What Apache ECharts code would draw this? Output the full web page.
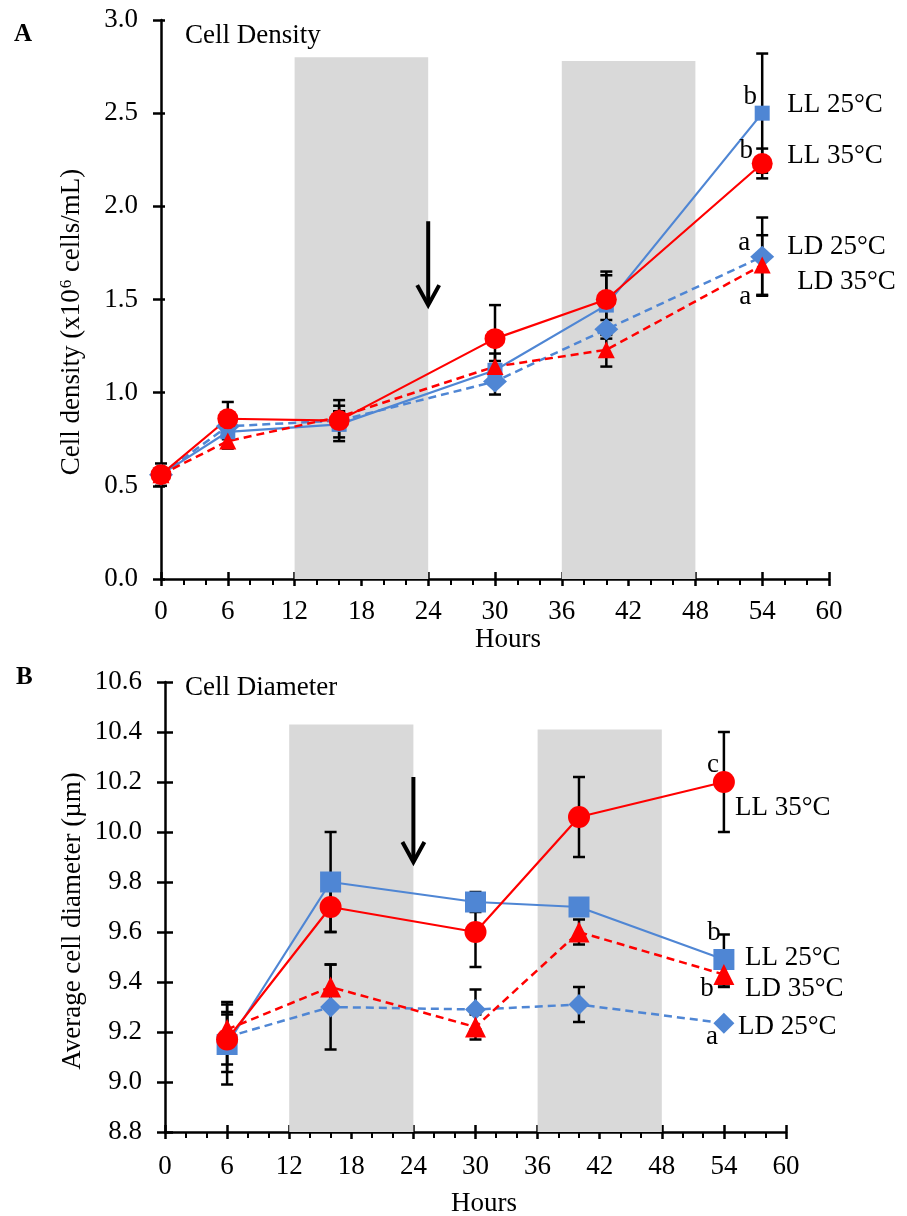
<!DOCTYPE html>
<html lang="en">
<head>
  <meta charset="UTF-8">
  <script src="https://cdn.jsdelivr.net/npm/echarts@6/dist/echarts.min.js"></script>
  <title>Cell density and diameter</title>
  <style>body{margin:0;background:#fff}</style>
</head>
<body>
  <div id="main" style="width: 907px;height:1216px;"></div>
  <script type="text/javascript">
    var myChart = echarts.init(document.getElementById('main'));

    // ---- data (panel A: cell density, x10^6 cells/mL) ----
    var hoursA = [0, 6, 16, 30, 40, 54];
    var ll25A = [0.56, 0.79, 0.83, 1.12, 1.47, 2.50];
    var ll25AErr = [0.03, 0.04, 0.07, 0.05, 0.16, 0.32];
    var ll35A = [0.56, 0.86, 0.85, 1.29, 1.50, 2.23];
    var ll35AErr = [0.06, 0.09, 0.11, 0.18, 0.15, 0.08];
    var ld25A = [0.56, 0.82, 0.85, 1.06, 1.34, 1.73];
    var ld25AErr = [0.03, 0.03, 0.05, 0.07, 0.05, 0.21];
    var ld35A = [0.56, 0.74, 0.87, 1.14, 1.23, 1.685];
    var ld35AErr = [0.03, 0.04, 0.06, 0.07, 0.09, 0.16];

    // ---- data (panel B: average cell diameter, um) ----
    var hoursB = [6, 16, 30, 40, 54];
    var ll25B = [9.15, 9.80, 9.72, 9.70, 9.49];
    var ll25BErr = [0.16, 0.20, 0.04, 0.03, 0.10];
    var ll35B = [9.17, 9.70, 9.60, 10.06, 10.20];
    var ll35BErr = [0.10, 0.10, 0.14, 0.16, 0.20];
    var ld25B = [9.18, 9.30, 9.29, 9.31, 9.235];
    var ld25BErr = [0.14, 0.17, 0.08, 0.07, 0.01];
    var ld35B = [9.21, 9.38, 9.22, 9.60, 9.43];
    var ld35BErr = [0.07, 0.09, 0.05, 0.05, 0.05];

    // dark periods (start, end, top of grey band)
    var darkA = [[12, 24, 2.8], [36, 48, 2.78]];
    var darkB = [[12, 24, 10.43], [36, 48, 10.41]];
    // arrows (x, top, tip)
    var arrowA = [[24, 1.92, 1.47]];
    var arrowB = [[24, 10.22, 9.88]];

    var seriesNames = ['LL 25°C', 'LL 35°C', 'LD 25°C', 'LD 35°C'];
    var lettersA = ['b', 'b', 'a', 'a'];
    var lettersB = ['b', 'c', 'a', 'b'];

    var FONT = "'Liberation Serif', 'Times New Roman', serif";
    var FS = 27;
    var BLUE = '#4F86D4';
    var RED = '#FF0000';

    function pairs(xs, ys) {
      return xs.map(function (x, i) { return [x, ys[i]]; });
    }
    function errData(xs, ys, es) {
      return xs.map(function (x, i) { return [x, ys[i] - es[i], ys[i] + es[i]]; });
    }

    function errorRender(params, api) {
      var x = api.value(0);
      var lo = api.coord([x, api.value(1)]);
      var hi = api.coord([x, api.value(2)]);
      var w = 6;
      var st = { stroke: '#000', lineWidth: 2.5 };
      return {
        type: 'group',
        children: [
          { type: 'line', shape: { x1: lo[0], y1: lo[1], x2: hi[0], y2: hi[1] }, style: st },
          { type: 'line', shape: { x1: lo[0] - w, y1: lo[1], x2: lo[0] + w, y2: lo[1] }, style: st },
          { type: 'line', shape: { x1: hi[0] - w, y1: hi[1], x2: hi[0] + w, y2: hi[1] }, style: st }
        ]
      };
    }

    function bandRender(base) {
      return function (params, api) {
        var p1 = api.coord([api.value(0), api.value(2)]);
        var p2 = api.coord([api.value(1), base]);
        return {
          type: 'rect',
          shape: { x: p1[0], y: p1[1], width: p2[0] - p1[0], height: p2[1] - p1[1] },
          style: { fill: '#D9D9D9' }
        };
      };
    }

    function arrowRender(params, api) {
      var top = api.coord([api.value(0), api.value(1)]);
      var tip = api.coord([api.value(0), api.value(2)]);
      var st = { stroke: '#000', lineWidth: 4, fill: null };
      return {
        type: 'group',
        children: [
          { type: 'line', shape: { x1: top[0], y1: top[1], x2: tip[0], y2: tip[1] - 2 }, style: st },
          { type: 'polyline', shape: { points: [[tip[0] - 11, tip[1] - 20], [tip[0], tip[1]], [tip[0] + 11, tip[1] - 20]] }, style: st }
        ]
      };
    }

    function xAxes(gi, labelMargin) {
      var common = {
        gridIndex: gi, type: 'value', min: 0, max: 60, interval: 6,
        position: 'bottom', offset: 0, splitLine: { show: false }
      };
      return [
        Object.assign({}, common, {
          axisLine: { lineStyle: { color: '#000', width: 2.5 } },
          axisTick: { inside: false, length: 7, lineStyle: { color: '#000', width: 2.5 } },
          minorTick: { show: true, splitNumber: 3, length: 6, lineStyle: { color: '#000', width: 2 } },
          axisLabel: { color: '#000', fontFamily: FONT, fontSize: FS, margin: labelMargin }
        }),
        Object.assign({}, common, {
          axisLine: { show: false },
          axisTick: { inside: true, length: 7, lineStyle: { color: '#000', width: 2.5 } },
          axisLabel: { show: false }
        })
      ];
    }

    function yAxes(gi, min, max, interval, inLen) {
      var common = {
        gridIndex: gi, type: 'value', min: min, max: max, interval: interval,
        position: 'left', offset: 0, splitLine: { show: false }
      };
      return [
        Object.assign({}, common, {
          axisLine: { show: true, lineStyle: { color: '#000', width: 2.5 } },
          axisTick: { show: true, inside: false, length: 8, lineStyle: { color: '#000', width: 2.5 } },
          axisLabel: {
            color: '#000', fontFamily: FONT, fontSize: FS, margin: 23,
            formatter: function (v) { return v.toFixed(1); }
          }
        }),
        Object.assign({}, common, {
          axisLine: { show: false },
          axisTick: { show: true, inside: true, length: inLen, lineStyle: { color: '#000', width: 2.5 } },
          axisLabel: { show: false }
        })
      ];
    }

    function lineSeries(xi, yi, name, data, color, dashed, symbol, size) {
      return {
        type: 'line', name: name, xAxisIndex: xi, yAxisIndex: yi, data: data,
        symbol: symbol, symbolSize: size, z: 4,
        lineStyle: { color: color, width: dashed ? 2.5 : 2.2, type: dashed ? [8, 5] : 'solid' },
        itemStyle: { color: color, opacity: 1 }
      };
    }

    // text labels at the last point, offsets in pixels
    function labelSeries(xi, yi, items) {
      return {
        type: 'scatter', xAxisIndex: xi, yAxisIndex: yi, symbolSize: 0, z: 6, silent: true,
        itemStyle: { opacity: 1 },
        data: items.map(function (it) {
          return {
            value: it.pos, name: it.text,
            label: {
              show: true, position: 'inside', formatter: '{b}', offset: it.off,
              align: it.align, verticalAlign: 'middle', opacity: 1,
              color: '#000', fontFamily: FONT, fontSize: FS
            }
          };
        })
      };
    }

    var lastA = hoursA.length - 1, lastB = hoursB.length - 1;

    function txt(x, y, s, extra) {
      return {
        type: 'text', x: x, y: y,
        style: Object.assign({ text: s, fontFamily: FONT, fontSize: FS, fill: '#000', verticalAlign: 'middle' }, extra || {})
      };
    }

    var option = {
      backgroundColor: '#fff',
      animation: false,
      grid: [
        { left: 161, top: 20, width: 668, height: 559 },
        { left: 165, top: 682, width: 621, height: 450 }
      ],
      xAxis: xAxes(0, 19).concat(xAxes(1, 21)),
      yAxis: yAxes(0, 0, 3, 0.5, 4).concat(yAxes(1, 8.8, 10.6, 0.2, 8)),
      graphic: [
        txt(14, 35, 'A', { fontSize: 25, fontWeight: 'bold' }),
        txt(185, 36, 'Cell Density'),
        txt(16, 678, 'B', { fontSize: 25, fontWeight: 'bold' }),
        txt(185, 688, 'Cell Diameter'),
        txt(508, 640, 'Hours', { align: 'center' }),
        txt(484, 1204, 'Hours', { align: 'center' }),
        {
          type: 'text', x: 72, y: 322, rotation: Math.PI / 2,
          style: {
            text: '{a|Cell density (x10}{s|6}{a| cells/mL)}', align: 'center', verticalAlign: 'middle', fill: '#000',
            rich: {
              a: { fontFamily: FONT, fontSize: FS, color: '#000' },
              s: { fontFamily: FONT, fontSize: 17, color: '#000', verticalAlign: 'top', padding: [0, 1, 10, 1] }
            }
          }
        },
        {
          type: 'text', x: 73, y: 921, rotation: Math.PI / 2,
          style: { text: 'Average cell diameter (\u00B5m)', fontFamily: FONT, fontSize: FS, fill: '#000', align: 'center', verticalAlign: 'middle' }
        }
      ],
      series: [
        // panel A
        { type: 'custom', xAxisIndex: 0, yAxisIndex: 0, data: darkA, renderItem: bandRender(0), z: 1, silent: true },
        { type: 'custom', xAxisIndex: 0, yAxisIndex: 0, data: arrowA, renderItem: arrowRender, z: 2, silent: true },
        {
          type: 'custom', xAxisIndex: 0, yAxisIndex: 0, renderItem: errorRender, z: 3, silent: true,
          data: errData(hoursA, ld25A, ld25AErr).concat(errData(hoursA, ll25A, ll25AErr),
            errData(hoursA, ld35A, ld35AErr), errData(hoursA, ll35A, ll35AErr))
        },
        lineSeries(0, 0, 'LD 25°C', pairs(hoursA, ld25A), BLUE, true, 'diamond', [24, 22]),
        lineSeries(0, 0, 'LL 25°C', pairs(hoursA, ll25A), BLUE, false, 'rect', 15),
        lineSeries(0, 0, 'LD 35°C', pairs(hoursA, ld35A), RED, true, 'triangle', 17),
        lineSeries(0, 0, 'LL 35°C', pairs(hoursA, ll35A), RED, false, 'circle', 21),
        labelSeries(0, 0, [
          { pos: [54, ll25A[lastA]], text: seriesNames[0], off: [25, -8], align: 'left' },
          { pos: [54, ll35A[lastA]], text: seriesNames[1], off: [25, -8], align: 'left' },
          { pos: [54, ld25A[lastA]], text: seriesNames[2], off: [25, -10], align: 'left' },
          { pos: [54, ld35A[lastA]], text: seriesNames[3], off: [35, 17], align: 'left' },
          { pos: [54, ll25A[lastA]], text: lettersA[0], off: [-12, -16], align: 'center' },
          { pos: [54, ll35A[lastA]], text: lettersA[1], off: [-16, -13], align: 'center' },
          { pos: [54, ld25A[lastA]], text: lettersA[2], off: [-18, -14], align: 'center' },
          { pos: [54, ld35A[lastA]], text: lettersA[3], off: [-17, 32], align: 'center' }
        ]),
        // panel B
        { type: 'custom', xAxisIndex: 2, yAxisIndex: 2, data: darkB, renderItem: bandRender(8.8), z: 1, silent: true },
        { type: 'custom', xAxisIndex: 2, yAxisIndex: 2, data: arrowB, renderItem: arrowRender, z: 2, silent: true },
        {
          type: 'custom', xAxisIndex: 2, yAxisIndex: 2, renderItem: errorRender, z: 3, silent: true,
          data: errData(hoursB, ld25B, ld25BErr).concat(errData(hoursB, ll25B, ll25BErr),
            errData(hoursB, ld35B, ld35BErr), errData(hoursB, ll35B, ll35BErr))
        },
        lineSeries(2, 2, 'LD 25°C', pairs(hoursB, ld25B), BLUE, true, 'diamond', 21),
        lineSeries(2, 2, 'LL 25°C', pairs(hoursB, ll25B), BLUE, false, 'rect', 21),
        lineSeries(2, 2, 'LD 35°C', pairs(hoursB, ld35B), RED, true, 'triangle', 21),
        lineSeries(2, 2, 'LL 35°C', pairs(hoursB, ll35B), RED, false, 'circle', 22),
        labelSeries(2, 2, [
          { pos: [54, ll25B[lastB]], text: seriesNames[0], off: [21, -2], align: 'left' },
          { pos: [54, ll35B[lastB]], text: seriesNames[1], off: [11, 26], align: 'left' },
          { pos: [54, ld25B[lastB]], text: seriesNames[2], off: [14, 4], align: 'left' },
          { pos: [54, ld35B[lastB]], text: seriesNames[3], off: [21, 14], align: 'left' },
          { pos: [54, ll25B[lastB]], text: lettersB[0], off: [-10, -27], align: 'center' },
          { pos: [54, ll35B[lastB]], text: lettersB[1], off: [-11, -17], align: 'center' },
          { pos: [54, ld25B[lastB]], text: lettersB[2], off: [-12, 14], align: 'center' },
          { pos: [54, ld35B[lastB]], text: lettersB[3], off: [-17, 14], align: 'center' }
        ])
      ]
    };

    myChart.setOption(option);
  </script>
</body>
</html>
